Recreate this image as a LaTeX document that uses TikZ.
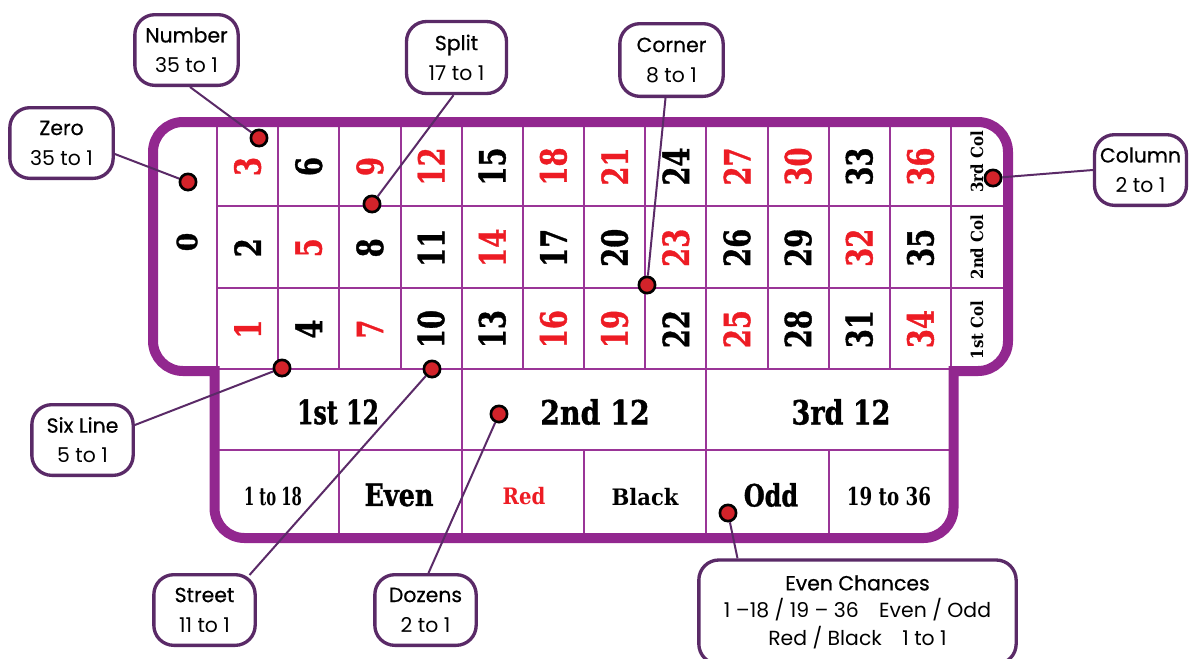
\documentclass[tikz,border=0pt]{standalone}
\usepackage{fontspec}
\setmainfont{DejaVu Serif}
\newfontfamily\numfont{DejaVu Serif}[BoldFeatures={FakeBold=1.2}]
\newfontfamily\cfont{Poppins}
\newfontfamily\cfontb{Poppins}[FakeBold=0.6]
\usetikzlibrary{calc}
\definecolor{felt}{HTML}{92278F}
\definecolor{gridc}{HTML}{9A3597}
\definecolor{callc}{HTML}{5A2A67}
\definecolor{rednum}{HTML}{ED1C24}
\definecolor{dotred}{HTML}{D2232A}
\tikzset{
  gridl/.style={draw=gridc, line width=1.5pt},
  rim/.style={draw=felt, line width=7.5pt, line join=miter},
  num/.style={rotate=90, inner sep=0pt, font=\numfont\fontsize{27}{30}\selectfont\bfseries},
  zerotxt/.style={rotate=90, inner sep=0pt, font=\numfont\fontsize{21}{22}\selectfont\bfseries},
  coltxt/.style={rotate=90, inner sep=0pt, font=\fontsize{12.5}{14}\selectfont\bfseries},
  doztxt/.style={inner sep=0pt, font=\numfont\fontsize{25}{28}\selectfont\bfseries},
  bigtxt/.style={inner sep=0pt, font=\numfont\fontsize{23}{26}\selectfont\bfseries},
  midtxt/.style={inner sep=0pt, font=\fontsize{18.5}{22}\selectfont\bfseries},
  smtxt/.style={inner sep=0pt, font=\fontsize{17}{20}\selectfont\bfseries},
  callout/.style={draw=callc, line width=2.5pt, fill=white, rounded corners=15pt,
    align=center, inner sep=0pt, font=\cfont\fontsize{15.3}{22.5}\selectfont},
  dot/.style={circle, fill=dotred, draw=black, line width=2pt, minimum size=12.2pt, inner sep=0pt},
  conn/.style={draw=callc, line width=1.5pt}
}
\begin{document}
\begin{tikzpicture}[x=0.75pt,y=-0.75pt]
\useasboundingbox (0,0) rectangle (1190,658);
% grid lines
\foreach \j in {0,...,12} \draw[gridl] ({217+61.17*\j},127) -- ({217+61.17*\j},369);
\draw[gridl] (217,206) -- (1006,206);
\draw[gridl] (217,288) -- (1006,288);
\draw[gridl] (217,369) -- (951,369);
\draw[gridl] (217,450) -- (951,450);
\foreach \j in {4,8} \draw[gridl] ({217+61.17*\j},369) -- ({217+61.17*\j},450);
\foreach \j in {2,4,6,8,10} \draw[gridl] ({217+61.17*\j},450) -- ({217+61.17*\j},535);
% numbers
\foreach \n in {1,...,36}{
  \pgfmathtruncatemacro{\cc}{int((\n-1)/3)}
  \pgfmathtruncatemacro{\rr}{2-mod(\n-1,3)}
  \pgfmathsetmacro{\xx}{217+61.17*(\cc+0.5)}
  \pgfmathsetmacro{\yy}{166.5+81.3*\rr}
  \pgfmathtruncatemacro{\isr}{{1,0,1,0,1,0,1,0,1,0,0,1,0,1,0,1,0,1,1,0,1,0,1,0,1,0,1,0,0,1,0,1,0,1,0,1}[\n-1]}
  \ifnum\isr=1 \def\cl{rednum}\else\def\cl{black}\fi
  \node[num, text=\cl] (n\n) at (\xx,\yy) {\scalebox{0.76}[1]{\n}};
}
\node[zerotxt] (n0) at (187,242) {\scalebox{0.95}[1]{0}};
\node[coltxt] (c3) at (977,162) {\scalebox{0.9}[1]{3rd Col}};
\node[coltxt] (c2) at (977,247) {\scalebox{0.9}[1]{2nd Col}};
\node[coltxt] (c1) at (977,330) {\scalebox{0.9}[1]{1st Col}};
\node[doztxt] (z1) at (338,412) {\scalebox{0.71}[1]{1st 12}};
\node[doztxt] (z2) at (595,412) {\scalebox{0.85}[1]{2nd 12}};
\node[doztxt] (z3) at (841,412) {\scalebox{0.81}[1]{3rd 12}};
\node[midtxt] (e1) at (273,497) {\scalebox{0.6}[1]{1 to 18}};
\node[bigtxt] (e2) at (399,495) {\scalebox{0.83}[1]{Even}};
\node[smtxt, text=rednum] (e3) at (524,496) {\scalebox{0.87}[1]{Red}};
\node[smtxt] (e4) at (645,497) {\scalebox{0.93}[1]{Black}};
\node[bigtxt] (e5) at (771,495) {\scalebox{0.78}[1]{Odd}};
\node[midtxt] (e6) at (889,497) {\scalebox{0.74}[1]{19 to 36}};
% rim
\draw[rim] (183,122) -- (978,122) .. controls (994.6,122) and (1008,135.4) .. (1008,152)
  -- (1008,341) .. controls (1008,357.6) and (994.6,371) .. (978,371)
  -- (953.5,371) -- (953.5,508) .. controls (953.5,524.6) and (940.1,538) .. (923.5,538)
  -- (244.5,538) .. controls (227.9,538) and (214.5,524.6) .. (214.5,508)
  -- (214.5,371) -- (183,371) .. controls (166.4,371) and (153,357.6) .. (153,341)
  -- (153,152) .. controls (153,135.4) and (166.4,122) .. (183,122) -- cycle;
% callouts
\node[callout, minimum width=77.5pt, minimum height=53pt] (cNum) at (186.5,50) {{\cfontb Number}\\35 to 1};
\node[callout, minimum width=77.5pt, minimum height=53pt] (cZero) at (61.5,143) {{\cfontb Zero}\\35 to 1};
\node[callout, minimum width=75pt, minimum height=54pt] (cSplit) at (456.5,57.5) {{\cfontb Split}\\17 to 1};
\node[callout, minimum width=77.5pt, minimum height=54.5pt] (cCorner) at (671.5,60) {{\cfontb Corner}\\8 to 1};
\node[callout, minimum width=69pt, minimum height=53pt] (cCol) at (1140.5,170) {{\cfontb Column}\\2 to 1};
\node[callout, minimum width=76pt, minimum height=53pt] (cSix) at (82.5,440) {{\cfontb Six Line}\\5 to 1};
\node[callout, minimum width=76pt, minimum height=53pt] (cStreet) at (204.5,610) {{\cfontb Street}\\11 to 1};
\node[callout, minimum width=76pt, minimum height=53pt] (cDoz) at (425.5,610) {{\cfontb Dozens}\\2 to 1};
\node[callout, minimum width=238pt, minimum height=78pt, font=\cfont\fontsize{15.3}{20.6}\selectfont] (cEven) at (857.5,612)
  {{\cfontb Even Chances}\\1 –18 / 19 – 36\quad Even / Odd\\Red / Black\quad 1 to 1};
% dots
\node[dot] (dNum) at (259,138) {};
\node[dot] (dZero) at (188,182) {};
\node[dot] (dSplit) at (372,204) {};
\node[dot] (dCorner) at (647,285) {};
\node[dot] (dCol) at (993,178) {};
\node[dot] (dSix) at (282,368) {};
\node[dot] (dStreet) at (432,369) {};
\node[dot] (dDoz) at (499,414) {};
\node[dot] (dEven) at (728,513) {};
% connectors
\draw[conn] ($(cNum.south)+(3.5,0)$) -- (dNum);
\draw[conn] ($(cZero.east)+(0,11)$) -- (dZero);
\draw[conn] ($(cSplit.south)+(-3,0)$) -- (dSplit);
\draw[conn] ($(cCorner.south)+(-6,0)$) -- (dCorner);
\draw[conn] (cCol.west) -- (dCol);
\draw[conn] ($(cSix.east)+(0,-15)$) -- (dSix);
\draw[conn] ($(cStreet.north)+(45,2)$) -- (dStreet);
\draw[conn] ($(cDoz.north)+(3,0)$) -- (dDoz);
\draw[conn] ($(cEven.north)+(-120,0)$) -- (dEven);
\end{tikzpicture}
\end{document}
